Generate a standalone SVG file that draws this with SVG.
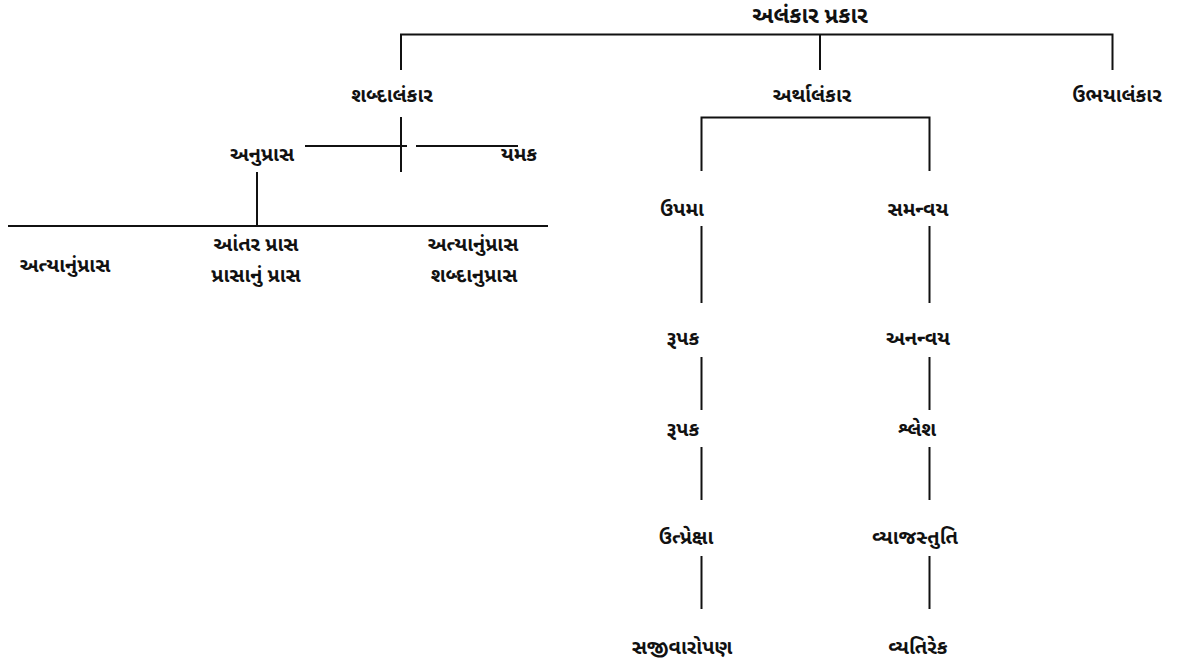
<svg xmlns="http://www.w3.org/2000/svg" width="1182" height="664" viewBox="0 0 1182 664">
<style>
.t{font-family:"Noto Sans Gujarati","Noto Sans","Liberation Sans",sans-serif;font-weight:bold;font-size:20px;fill:#111;text-anchor:middle;dominant-baseline:central}
.title{font-size:22.5px}
.c{stroke:#111;stroke-width:2;fill:none}
</style>
<rect width="1182" height="664" fill="#fff"/>
<g id="connectors" class="c">
<path d="M401,70 V34.5 H1112.5 V70"/>
<path d="M820,34.5 V70"/>
<path d="M401,117 V172"/>
<path d="M305,146 H407"/>
<path d="M416,146 H518"/>
<path d="M257,172 V226"/>
<path d="M8,226 H548"/>
<path d="M701.5,171 V117.5 H929.5 V171"/>
<path d="M701.5,226 V303"/>
<path d="M929.5,226 V303"/>
<path d="M701.5,357 V410"/>
<path d="M929.5,357 V410"/>
<path d="M701.5,447 V500"/>
<path d="M929.5,447 V500"/>
<path d="M701.5,556 V609"/>
<path d="M929.5,556 V609"/>
</g>
<g id="n-root"><text class="t title" x="810" y="17">અલંકાર પ્રકાર</text></g>
<g id="n-shabda"><text class="t" x="392" y="97">શબ્દાલંકાર</text></g>
<g id="n-artha"><text class="t" x="812" y="97">અર્થાલંકાર</text></g>
<g id="n-ubhay"><text class="t" x="1117" y="97">ઉભયાલંકાર</text></g>
<g id="n-anupras"><text class="t" x="262" y="156">અનુપ્રાસ</text></g>
<g id="n-yamak"><text class="t" x="519" y="156">યમક</text></g>
<g id="n-antya1"><text class="t" x="65" y="267">અત્યાનુંપ્રાસ</text></g>
<g id="n-antar"><text class="t" x="256" y="246">આંતર પ્રાસ</text><text class="t" x="256" y="277">પ્રાસાનું પ્રાસ</text></g>
<g id="n-antya2"><text class="t" x="473" y="246">અત્યાનુંપ્રાસ</text><text class="t" x="474" y="277">શબ્દાનુપ્રાસ</text></g>
<g id="n-upma"><text class="t" x="682" y="211">ઉપમા</text></g>
<g id="n-samanvay"><text class="t" x="918" y="211">સમન્વય</text></g>
<g id="n-rupak1"><text class="t" x="683" y="340">રૂપક</text></g>
<g id="n-ananvay"><text class="t" x="918" y="340">અનન્વય</text></g>
<g id="n-rupak2"><text class="t" x="683" y="431">રૂપક</text></g>
<g id="n-shlesh"><text class="t" x="917" y="431">શ્લેશ</text></g>
<g id="n-utpreksha"><text class="t" x="686" y="539">ઉત્પ્રેક્ષા</text></g>
<g id="n-vyajstuti"><text class="t" x="915" y="539">વ્યાજસ્તુતિ</text></g>
<g id="n-sajivaropan"><text class="t" x="682" y="649">સજીવારોપણ</text></g>
<g id="n-vyatirek"><text class="t" x="918" y="649">વ્યતિરેક</text></g>
</svg>
